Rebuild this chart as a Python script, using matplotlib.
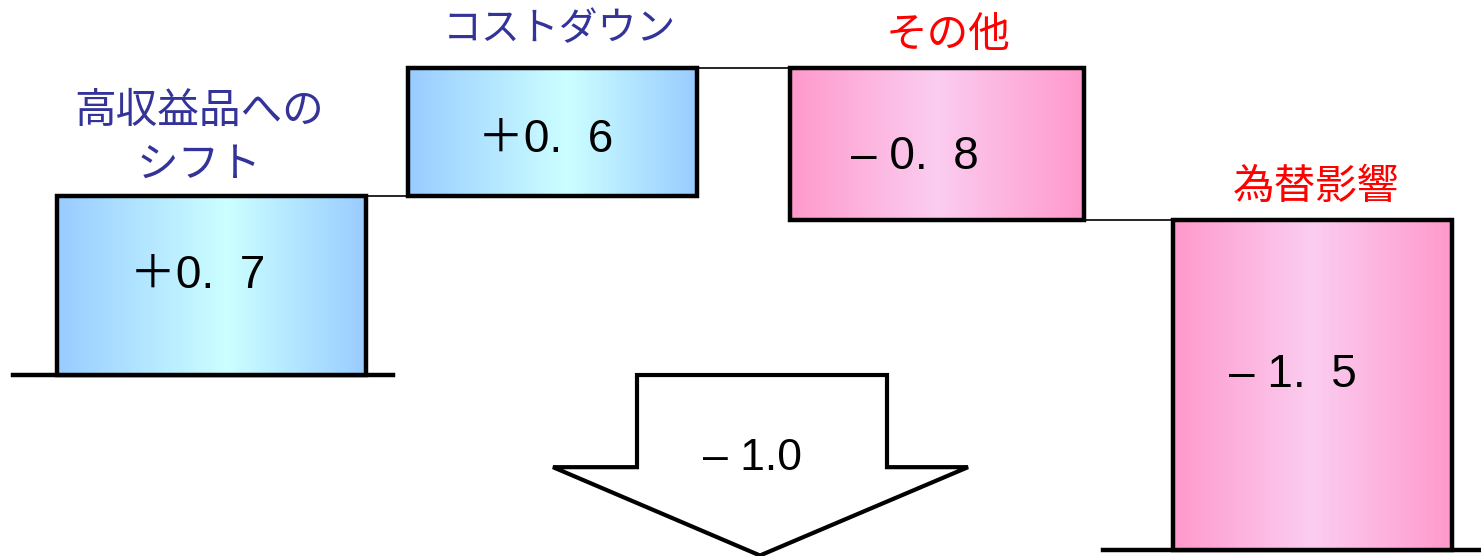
import numpy as np
import matplotlib
matplotlib.use("Agg")
import matplotlib.pyplot as plt
from matplotlib.colors import LinearSegmentedColormap
from matplotlib.patches import Rectangle, Polygon

# waterfall items (labels are the reported values, heights are the schematic drawn sizes)
categories = ["高収益品への\nシフト", "コストダウン", "その他", "為替影響"]
value_labels = ["＋0.  7", "＋0.  6", "– 0.  8", "– 1.  5"]
drawn_heights = [0.70, 0.50, -0.595, -1.29]
bar_centers = [2.115, 5.525, 9.37, 13.125]
bar_widths = [3.10, 2.89, 2.94, 2.79]
total_label = "– 1.0"

# small nudges for text placement (x in inches, y in chart units)
value_dx = [-0.14, -0.07, -0.22, -0.20]
value_dy = [0.035, -0.03, -0.05, 0.04]
cat_dx = [-0.125, 0.07, 0.11, 0.03]
cat_dy = [0.226, 0.15, 0.125, 0.128]
cat_size = [30, 28, 30, 30]

plt.rcParams["font.family"] = ["Noto Sans CJK JP", "DejaVu Sans"]
num_font = ["Liberation Sans", "Noto Sans CJK JP", "DejaVu Sans"]

fig = plt.figure(figsize=(14.81, 5.56), dpi=100)
ax = fig.add_axes([0, 0, 1, 1])
ax.set_xlim(0, 14.81)
ax.set_ylim(-0.707, 1.465)
ax.axis("off")

blue_cmap = LinearSegmentedColormap.from_list(
    "blue", [(0, "#99ccff"), (0.55, "#ccffff"), (1, "#99ccff")])
pink_cmap = LinearSegmentedColormap.from_list(
    "pink", [(0, "#ff99cc"), (0.5, "#fbcdf0"), (1, "#ff99cc")])
grad = np.linspace(0, 1, 256).reshape(1, -1)

# cumulative levels
bottoms = []
level = 0.0
for h in drawn_heights:
    bottoms.append(level)
    level += h

for i, (cat, lab, h, xc, w) in enumerate(zip(categories, value_labels, drawn_heights,
                                            bar_centers, bar_widths)):
    b = bottoms[i]
    y0, y1 = min(b, b + h), max(b, b + h)
    x0, x1 = xc - w / 2, xc + w / 2
    cmap = blue_cmap if h > 0 else pink_cmap
    ax.imshow(grad, cmap=cmap, extent=(x0, x1, y0, y1), aspect="auto",
              interpolation="bicubic", zorder=2)
    ax.add_patch(Rectangle((x0, y0), w, y1 - y0, fill=False,
                           edgecolor="black", linewidth=3.2, zorder=3))

    # value label inside bar
    ax.text(xc + value_dx[i], (y0 + y1) / 2 + value_dy[i], lab,
            ha="center", va="center", fontsize=33, family=num_font, zorder=4)

    # category label above bar
    color = "#333399" if h > 0 else "#ff0000"
    ax.text(xc + cat_dx[i], y1 + cat_dy[i], cat, ha="center", va="center",
            fontsize=cat_size[i], color=color, linespacing=1.4)

    # connector to next bar
    if i < len(drawn_heights) - 1:
        nx0 = bar_centers[i + 1] - bar_widths[i + 1] / 2
        ax.plot([x1, nx0], [b + h, b + h], color="black", linewidth=1.2, zorder=1)

# baselines
ax.plot([0.13, 3.93], [0, 0], color="black", linewidth=3.2, zorder=1)
end_level = bottoms[-1] + drawn_heights[-1]
ax.plot([11.03, 14.81], [end_level, end_level], color="black", linewidth=3.2, zorder=1)

# total change arrow
shaft_l, shaft_r, head_l, head_r, tip_x = 6.37, 8.87, 5.53, 9.68, 7.60
shoulder, tip_y = -0.36, -0.705
arrow = Polygon([(shaft_l, 0), (shaft_r, 0), (shaft_r, shoulder), (head_r, shoulder),
                 (tip_x, tip_y), (head_l, shoulder), (shaft_l, shoulder)],
                closed=True, facecolor="white", edgecolor="black", linewidth=3.0,
                zorder=2)
ax.add_patch(arrow)
ax.text(7.53, -0.325, total_label, ha="center", va="center", fontsize=32,
        family=num_font, zorder=4)

fig.savefig("out.png", dpi=100)
